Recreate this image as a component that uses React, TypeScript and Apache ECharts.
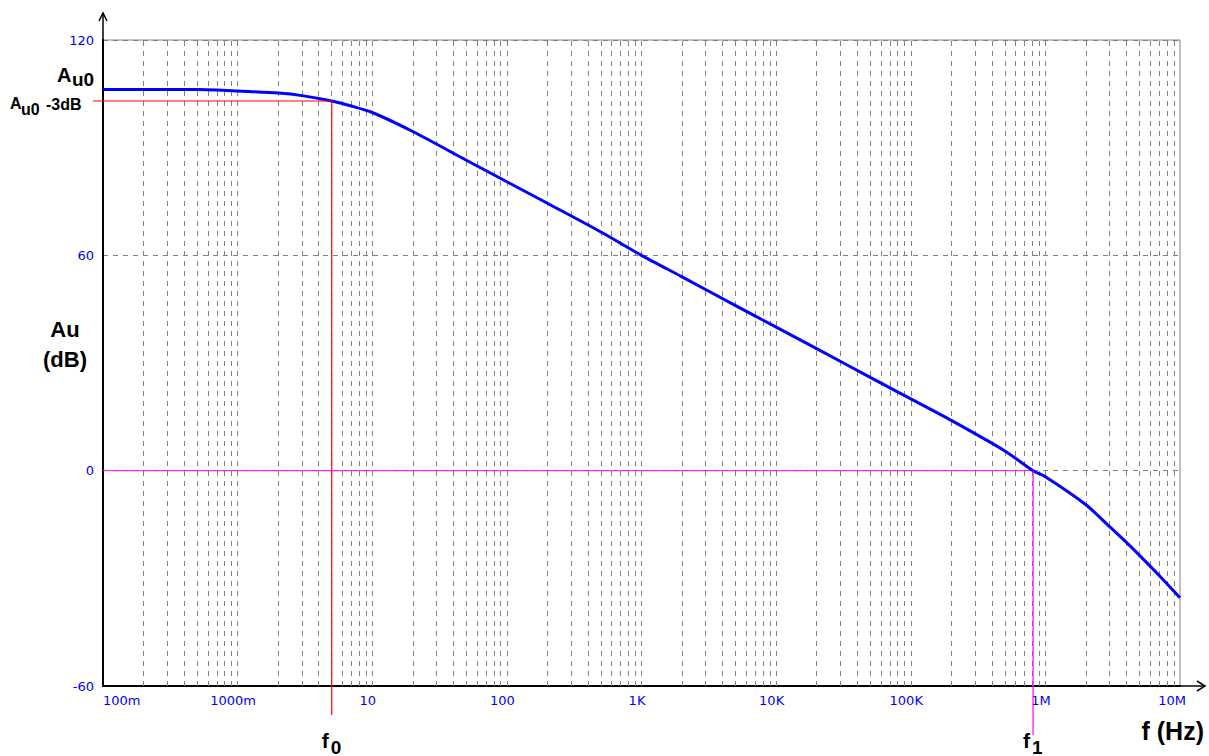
import React, { useEffect, useRef } from "react";
import * as echarts from "echarts";

// Frequency response (Hz, dB)
const freqs = [0.1, 0.2, 0.5, 0.7, 1, 2, 3, 5, 7, 10, 20, 50, 100, 200, 500, 1e3, 2e3, 5e3, 1e4, 2e4, 5e4, 1e5, 2e5, 5e5, 8.1e5, 1e6, 2e6, 3e6, 4e6, 5e6, 7e6, 1e7];
const gainDb = [106.2, 106.2, 106.2, 106.1, 105.8, 105.2, 104.5, 103, 101.6, 99.8, 94.5, 86.5, 80.5, 74.5, 66.5, 60, 54, 46, 40, 34, 26, 20, 14, 5.5, 0, -1.7, -9.5, -15.6, -20, -23.6, -29.2, -35.4];

const xTickLabels: Record<string, string> = {
  "0.1": "100m", "1": "1000m", "10": "10", "100": "100", "1000": "1K",
  "10000": "10K", "100000": "100K", "1000000": "1M", "10000000": "10M",
};
const yTicks = [-60, 0, 60, 120];
const decades = [0.1, 1, 10, 100, 1e3, 1e4, 1e5, 1e6];
const mults = [1, 2, 3, 4, 5, 6, 7, 8, 9];

const AU0 = 106.2;
const AU0_3DB = 103;
const F0 = 5;
const F1 = 8.1e5;

export default function App() {
  const ref = useRef<HTMLDivElement>(null);
  useEffect(() => {
    if (!ref.current) return;
    const chart = echarts.init(ref.current, undefined, { renderer: "svg" });
    const gridLines: any[] = [];
    decades.forEach((d) => mults.forEach((m) => {
      const v = +(d * m).toPrecision(3);
      if (v > 0.1) gridLines.push({ xAxis: v });
    }));
    const tickFont = "DejaVu Sans, Verdana, sans-serif";

    chart.setOption({
      animation: false,
      backgroundColor: "#ffffff",
      grid: { left: 103, right: 29, top: 40, bottom: 70, show: true, borderColor: "#808080", borderWidth: 1 },
      xAxis: {
        type: "log", logBase: 10, min: 0.1, max: 1e7,
        axisLine: { show: true, onZero: false, lineStyle: { color: "#000", width: 2 } },
        axisTick: { show: false },
        splitLine: { show: false },
        axisLabel: {
          color: "#0000ff", fontSize: 13, fontFamily: tickFont, margin: 8,
          alignMinLabel: "left", alignMaxLabel: "center",
          formatter: (v: number) => {
            const key = String(+v.toPrecision(3));
            const t = xTickLabels[key];
            if (!t) return "";
            if (key === "10000000") return `{e|${t}}`;
            if (key === "0.1") return `{f|${t}}`;
            return `{n|${t}}`;
          },
          rich: {
            n: { color: "#0000ff", fontSize: 13, fontFamily: tickFont, padding: [0, 9, 0, 0] },
            e: { color: "#0000ff", fontSize: 13, fontFamily: tickFont, padding: [0, 16, 0, 0] },
            f: { color: "#0000ff", fontSize: 13, fontFamily: tickFont },
          },
        },
      },
      yAxis: {
        type: "value", min: -60, max: 120, interval: 60,
        axisLine: { show: true, onZero: false, lineStyle: { color: "#000", width: 2 } },
        axisTick: { show: false },
        splitLine: { show: true, lineStyle: { color: "#808080", type: [5, 5], width: 1 } },
        axisLabel: {
          color: "#0000ff", fontSize: 13, fontFamily: tickFont, margin: 9,
          formatter: (v: number) => (yTicks.includes(v) ? String(v) : ""),
        },
      },
      series: [
        {
          type: "line", silent: true, data: [], z: 1,
          markLine: {
            silent: true, symbol: "none", label: { show: false },
            lineStyle: { color: "#808080", type: [5, 5], width: 1 },
            data: gridLines,
          },
        },
        {
          type: "line", data: [[0.1, 0], [F1, 0]], symbol: "none", z: 3,
          lineStyle: { color: "#ff00ff", width: 1 },
        },
        {
          type: "line", data: freqs.map((f, i) => [f, gainDb[i]]), symbol: "none", z: 5,
          smooth: 0.25,
          lineStyle: { color: "#0000ff", width: 3 },
        },
      ],
    });

    const p0 = chart.convertToPixel({ gridIndex: 0 }, [F0, AU0_3DB]) as number[];
    const p1 = chart.convertToPixel({ gridIndex: 0 }, [F1, 0]) as number[];
    const pA = chart.convertToPixel({ gridIndex: 0 }, [0.1, AU0]) as number[];
    const origin = chart.convertToPixel({ gridIndex: 0 }, [0.1, -60]) as number[];
    const top = chart.convertToPixel({ gridIndex: 0 }, [1e7, 120]) as number[];
    const ax = origin[0], ay = origin[1];
    const rx = top[0], ty = top[1];
    const ff = "Liberation Sans, Arial, sans-serif";
    const txt = (text: string, x: number, y: number, size: number, align = "left") => ({
      type: "text", x, y, z: 10,
      style: { text, align, verticalAlign: "middle", fontSize: size, fontWeight: "bold", fontFamily: ff, fill: "#000" },
    });

    chart.setOption({
      graphic: [
        // y-axis arrow
        { type: "line", shape: { x1: ax, y1: ty, x2: ax, y2: 13 }, style: { stroke: "#000", lineWidth: 1.5 }, z: 10 },
        { type: "polyline", shape: { points: [[ax - 4, 21], [ax, 13], [ax + 4, 21]] }, style: { stroke: "#000", lineWidth: 1.5, fill: null }, z: 10 },
        // x-axis arrow
        { type: "line", shape: { x1: rx, y1: ay, x2: 1205, y2: ay }, style: { stroke: "#000", lineWidth: 1.5 }, z: 10 },
        { type: "polyline", shape: { points: [[1197, ay - 5], [1205, ay], [1197, ay + 5]] }, style: { stroke: "#000", lineWidth: 1.5, fill: null }, z: 10 },
        // red f0 lines
        { type: "line", shape: { x1: 93, y1: p0[1], x2: p0[0], y2: p0[1] }, style: { stroke: "#ff0000", lineWidth: 1.2 }, z: 8 },
        { type: "line", shape: { x1: p0[0], y1: p0[1], x2: p0[0], y2: 715 }, style: { stroke: "#ff0000", lineWidth: 1.2 }, z: 8 },
        // magenta f1 vertical
        { type: "line", shape: { x1: p1[0], y1: p1[1], x2: p1[0], y2: 735 }, style: { stroke: "#ff00ff", lineWidth: 1.2 }, z: 8 },
        // Au0 label
        txt("A", 57, pA[1] - 15, 20),
        txt("u0", 72, pA[1] - 10, 19),
        // Au0-3dB label
        txt("A", 10, p0[1] + 2, 16),
        txt("u0", 21, p0[1] + 8, 16),
        txt("-3dB", 46, p0[1] + 3, 16),
        // y title
        txt("Au", 65, 329, 22, "center"),
        txt("(dB)", 65, 359, 22, "center"),
        // x title
        txt("f (Hz)", 1204, 731, 25, "right"),
        // f0 / f1
        txt("f", p0[0] - 10, 740, 21),
        txt("0", p0[0] - 1, 747, 19),
        txt("f", p1[0] - 10, 740, 21),
        txt("1", p1[0] - 1, 747, 19),
      ],
    });
    return () => chart.dispose();
  }, []);
  return <div ref={ref} style={{ position: "fixed", left: 0, top: 0, width: 1209, height: 756 }} />;
}
